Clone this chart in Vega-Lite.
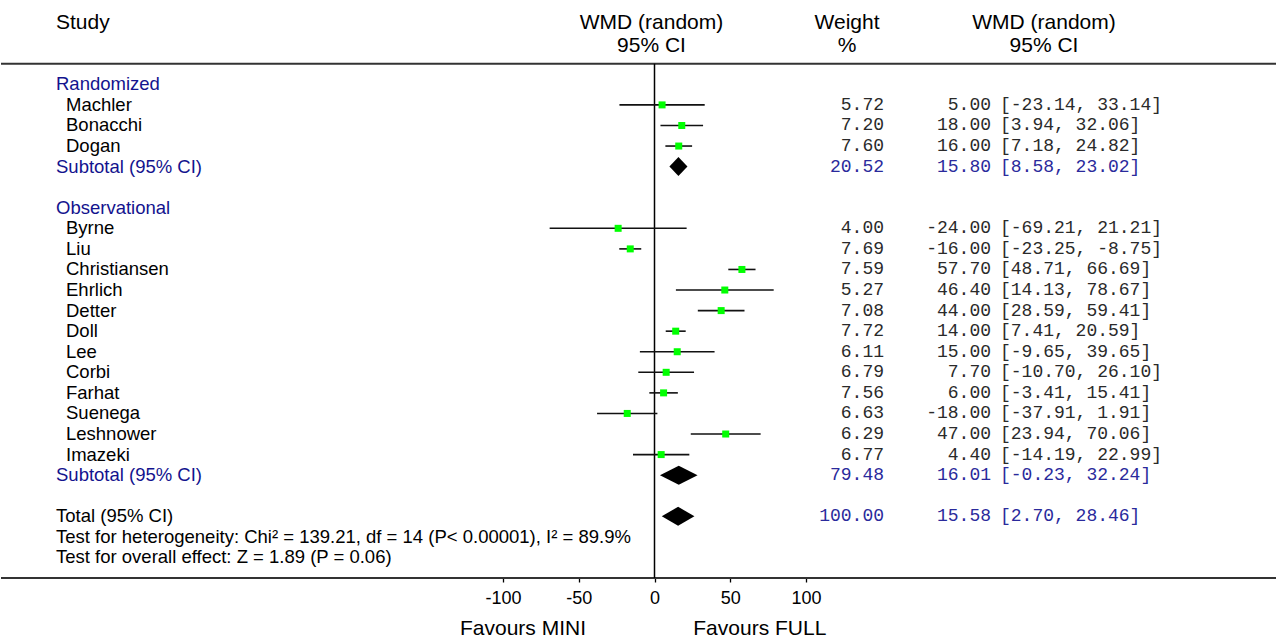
{
  "$schema": "https://vega.github.io/schema/vega-lite/v6.json",
  "padding": 0,
  "autosize": {"type": "pad"},
  "bounds": "flush",
  "spacing": 0,
  "config": {
    "view": {"stroke": null},
    "locale": {"number": {"decimal": ".", "thousands": ",", "grouping": [3], "currency": ["$", ""], "minus": "-"}}
  },
  "datasets": {
    "lines": [{"id": "top"}, {"id": "bottom"}],
    "headers": [
      {"id": "h1", "col": "study", "t": "Study"},
      {"id": "h1", "col": "plot", "t": "WMD (random)"},
      {"id": "h2", "col": "plot", "t": "95% CI"},
      {"id": "h1", "col": "weight", "t": "Weight"},
      {"id": "h2", "col": "weight", "t": "%"},
      {"id": "h1", "col": "ci", "t": "WMD (random)"},
      {"id": "h2", "col": "ci", "t": "95% CI"}
    ],
    "rows": [
      {"id": "Randomized", "label": "Randomized", "kind": "group"},
      {"id": "Machler", "label": "Machler", "kind": "study", "weight": 5.72, "est": 5.00, "lower": -23.14, "upper": 33.14, "ci": "[-23.14, 33.14]"},
      {"id": "Bonacchi", "label": "Bonacchi", "kind": "study", "weight": 7.20, "est": 18.00, "lower": 3.94, "upper": 32.06, "ci": "[3.94, 32.06]"},
      {"id": "Dogan", "label": "Dogan", "kind": "study", "weight": 7.60, "est": 16.00, "lower": 7.18, "upper": 24.82, "ci": "[7.18, 24.82]"},
      {"id": "SubR", "label": "Subtotal (95% CI)", "kind": "subtotal", "weight": 20.52, "est": 15.80, "lower": 8.58, "upper": 23.02, "ci": "[8.58, 23.02]"},
      {"id": "Observational", "label": "Observational", "kind": "group"},
      {"id": "Byrne", "label": "Byrne", "kind": "study", "weight": 4.00, "est": -24.00, "lower": -69.21, "upper": 21.21, "ci": "[-69.21, 21.21]"},
      {"id": "Liu", "label": "Liu", "kind": "study", "weight": 7.69, "est": -16.00, "lower": -23.25, "upper": -8.75, "ci": "[-23.25, -8.75]"},
      {"id": "Christiansen", "label": "Christiansen", "kind": "study", "weight": 7.59, "est": 57.70, "lower": 48.71, "upper": 66.69, "ci": "[48.71, 66.69]"},
      {"id": "Ehrlich", "label": "Ehrlich", "kind": "study", "weight": 5.27, "est": 46.40, "lower": 14.13, "upper": 78.67, "ci": "[14.13, 78.67]"},
      {"id": "Detter", "label": "Detter", "kind": "study", "weight": 7.08, "est": 44.00, "lower": 28.59, "upper": 59.41, "ci": "[28.59, 59.41]"},
      {"id": "Doll", "label": "Doll", "kind": "study", "weight": 7.72, "est": 14.00, "lower": 7.41, "upper": 20.59, "ci": "[7.41, 20.59]"},
      {"id": "Lee", "label": "Lee", "kind": "study", "weight": 6.11, "est": 15.00, "lower": -9.65, "upper": 39.65, "ci": "[-9.65, 39.65]"},
      {"id": "Corbi", "label": "Corbi", "kind": "study", "weight": 6.79, "est": 7.70, "lower": -10.70, "upper": 26.10, "ci": "[-10.70, 26.10]"},
      {"id": "Farhat", "label": "Farhat", "kind": "study", "weight": 7.56, "est": 6.00, "lower": -3.41, "upper": 15.41, "ci": "[-3.41, 15.41]"},
      {"id": "Suenega", "label": "Suenega", "kind": "study", "weight": 6.63, "est": -18.00, "lower": -37.91, "upper": 1.91, "ci": "[-37.91, 1.91]"},
      {"id": "Leshnower", "label": "Leshnower", "kind": "study", "weight": 6.29, "est": 47.00, "lower": 23.94, "upper": 70.06, "ci": "[23.94, 70.06]"},
      {"id": "Imazeki", "label": "Imazeki", "kind": "study", "weight": 6.77, "est": 4.40, "lower": -14.19, "upper": 22.99, "ci": "[-14.19, 22.99]"},
      {"id": "SubO", "label": "Subtotal (95% CI)", "kind": "subtotal", "weight": 79.48, "est": 16.01, "lower": -0.23, "upper": 32.24, "ci": "[-0.23, 32.24]"},
      {"id": "Total", "label": "Total (95% CI)", "kind": "total", "weight": 100.00, "est": 15.58, "lower": 2.70, "upper": 28.46, "ci": "[2.70, 28.46]"},
      {"id": "Het", "label": "Test for heterogeneity: Chi² = 139.21, df = 14 (P< 0.00001), I² = 89.9%", "kind": "test"},
      {"id": "Overall", "label": "Test for overall effect: Z = 1.89 (P = 0.06)", "kind": "test"}
    ]
  },
  "hconcat": [
    {
      "width": 110,
      "height": 578,
      "layer": [
        {
          "data": {"name": "lines"},
          "mark": {"type": "rule", "color": "#333333", "strokeWidth": 2},
          "encoding": {"y": {"field": "id", "type": "nominal", "axis": null, "scale": {"type": "point", "domain": ["h1","h2","top","Randomized","Machler","Bonacchi","Dogan","SubR","gap1","Observational","Byrne","Liu","Christiansen","Ehrlich","Detter","Doll","Lee","Corbi","Farhat","Suenega","Leshnower","Imazeki","SubO","gap2","Total","Het","Overall","bottom"], "padding": 0.55, "align": 1}}}
        },
        {
          "data": {"name": "headers"},
          "transform": [{"filter": "datum.col === 'study'"}],
          "mark": {"type": "text", "align": "left", "baseline": "middle", "font": "Liberation Sans", "fontSize": 21, "color": "#000000"},
          "encoding": {"y": {"field": "id", "type": "nominal", "axis": null}, "text": {"field": "t"}}
        },
        {
          "data": {"name": "rows"},
          "transform": [{"filter": "datum.kind !== 'study'"}],
          "mark": {"type": "text", "align": "left", "baseline": "middle", "font": "Liberation Sans", "fontSize": 18.5},
          "encoding": {
            "y": {"field": "id", "type": "nominal", "axis": null},
            "text": {"field": "label"},
            "color": {"condition": {"test": "datum.kind === 'group' || datum.kind === 'subtotal'", "value": "#13138e"}, "value": "#000000"}
          }
        },
        {
          "data": {"name": "rows"},
          "transform": [{"filter": "datum.kind === 'study'"}],
          "mark": {"type": "text", "align": "left", "baseline": "middle", "font": "Liberation Sans", "fontSize": 18.5, "dx": 10, "color": "#000000"},
          "encoding": {"y": {"field": "id", "type": "nominal", "axis": null}, "text": {"field": "label"}}
        }
      ]
    },
    {
      "width": 392,
      "height": 578,
      "layer": [
        {
          "data": {"name": "lines"},
          "mark": {"type": "rule", "color": "#333333", "strokeWidth": 2},
          "encoding": {"y": {"field": "id", "type": "nominal", "axis": null, "scale": {"type": "point", "domain": ["h1","h2","top","Randomized","Machler","Bonacchi","Dogan","SubR","gap1","Observational","Byrne","Liu","Christiansen","Ehrlich","Detter","Doll","Lee","Corbi","Farhat","Suenega","Leshnower","Imazeki","SubO","gap2","Total","Het","Overall","bottom"], "padding": 0.55, "align": 1}}}
        }
      ]
    },
    {
      "width": 303,
      "height": 578,
      "resolve": {"axis": {"x": "independent"}},
      "layer": [
        {
          "data": {"name": "lines"},
          "mark": {"type": "rule", "color": "#333333", "strokeWidth": 2},
          "encoding": {"y": {"field": "id", "type": "nominal", "axis": null, "scale": {"type": "point", "domain": ["h1","h2","top","Randomized","Machler","Bonacchi","Dogan","SubR","gap1","Observational","Byrne","Liu","Christiansen","Ehrlich","Detter","Doll","Lee","Corbi","Farhat","Suenega","Leshnower","Imazeki","SubO","gap2","Total","Het","Overall","bottom"], "padding": 0.55, "align": 1}}}
        },
        {
          "data": {"name": "headers"},
          "transform": [{"filter": "datum.col === 'plot' && datum.id === 'h1'"}],
          "mark": {"type": "text", "align": "center", "baseline": "middle", "font": "Liberation Sans", "fontSize": 21, "color": "#000000", "dx": -3},
          "encoding": {"y": {"field": "id", "type": "nominal", "axis": null}, "text": {"field": "t"}}
        },
        {
          "data": {"name": "headers"},
          "transform": [{"filter": "datum.col === 'plot' && datum.id === 'h2'"}],
          "mark": {"type": "text", "align": "center", "baseline": "middle", "font": "Liberation Sans", "fontSize": 21, "color": "#000000", "dx": -3, "dy": 3},
          "encoding": {"y": {"field": "id", "type": "nominal", "axis": null}, "text": {"field": "t"}}
        },
        {
          "data": {"values": [{}]},
          "mark": {"type": "rule", "color": "#000000", "strokeWidth": 1.5},
          "encoding": {
            "x": {"datum": 0, "type": "quantitative", "axis": null, "scale": {"domain": [-100, 100], "nice": false, "zero": false}},
            "y": {"datum": "top", "type": "nominal", "axis": null},
            "y2": {"datum": "bottom"}
          }
        },
        {
          "data": {"name": "rows"},
          "transform": [{"filter": "datum.kind === 'study'"}],
          "mark": {"type": "rule", "color": "#111111", "strokeWidth": 1.6},
          "encoding": {
            "x": {"field": "lower", "type": "quantitative", "scale": {"domain": [-100, 100], "nice": false, "zero": false},
              "axis": {"orient": "bottom", "values": [-100, -50, 0, 50, 100], "format": "d", "domain": false, "grid": false, "ticks": true, "tickSize": 4, "tickWidth": 1.3, "tickColor": "#000000", "labelFont": "Liberation Sans", "labelFontSize": 18, "labelColor": "#000000", "labelPadding": 7, "labelFlush": false, "labelOverlap": false, "title": "Favours MINI", "titleFont": "Liberation Sans", "titleFontSize": 21, "titleFontWeight": "normal", "titleColor": "#000000", "titleX": 19.5, "titleY": 56, "titleAlign": "center", "titleBaseline": "alphabetic"}},
            "x2": {"field": "upper"},
            "y": {"field": "id", "type": "nominal", "axis": null}
          }
        },
        {
          "data": {"name": "rows"},
          "transform": [{"filter": "datum.kind === 'study'"}],
          "mark": {"type": "point", "shape": "square", "filled": true, "color": "#00ff00", "opacity": 1, "size": 49},
          "encoding": {
            "x": {"field": "est", "type": "quantitative", "scale": {"domain": [-100, 100], "nice": false, "zero": false},
              "axis": {"orient": "bottom", "domain": false, "grid": false, "ticks": false, "labels": false, "title": "Favours FULL", "titleFont": "Liberation Sans", "titleFontSize": 21, "titleFontWeight": "normal", "titleColor": "#000000", "titleX": 256.3, "titleY": 56, "titleAlign": "center", "titleBaseline": "alphabetic"}},
            "y": {"field": "id", "type": "nominal", "axis": null}
          }
        },
        {
          "data": {"name": "rows"},
          "transform": [{"filter": "datum.kind === 'subtotal' || datum.kind === 'total'"}],
          "mark": {"type": "point", "filled": true, "color": "#000000", "opacity": 1, "size": 361},
          "encoding": {
            "x": {"field": "est", "type": "quantitative", "axis": null, "scale": {"domain": [-100, 100], "nice": false, "zero": false}},
            "y": {"field": "id", "type": "nominal", "axis": null},
            "shape": {"field": "id", "type": "nominal", "legend": null, "scale": {"domain": ["SubR", "SubO", "Total"], "range": ["M-0.95,0L0,-1L0.95,0L0,1Z", "M-1.98,0L0,-1L1.98,0L0,1Z", "M-1.72,0L0,-1L1.72,0L0,1Z"]}}
          }
        }
      ]
    },
    {
      "width": 156,
      "height": 578,
      "layer": [
        {
          "data": {"name": "lines"},
          "mark": {"type": "rule", "color": "#333333", "strokeWidth": 2},
          "encoding": {"y": {"field": "id", "type": "nominal", "axis": null, "scale": {"type": "point", "domain": ["h1","h2","top","Randomized","Machler","Bonacchi","Dogan","SubR","gap1","Observational","Byrne","Liu","Christiansen","Ehrlich","Detter","Doll","Lee","Corbi","Farhat","Suenega","Leshnower","Imazeki","SubO","gap2","Total","Het","Overall","bottom"], "padding": 0.55, "align": 1}}}
        },
        {
          "data": {"name": "headers"},
          "transform": [{"filter": "datum.col === 'weight' && datum.id === 'h1'"}],
          "mark": {"type": "text", "align": "center", "baseline": "middle", "font": "Liberation Sans", "fontSize": 21, "color": "#000000", "dx": -37},
          "encoding": {"y": {"field": "id", "type": "nominal", "axis": null}, "text": {"field": "t"}}
        },
        {
          "data": {"name": "headers"},
          "transform": [{"filter": "datum.col === 'weight' && datum.id === 'h2'"}],
          "mark": {"type": "text", "align": "center", "baseline": "middle", "font": "Liberation Sans", "fontSize": 21, "color": "#000000", "dx": -37, "dy": 3},
          "encoding": {"y": {"field": "id", "type": "nominal", "axis": null}, "text": {"field": "t"}}
        },
        {
          "data": {"name": "rows"},
          "transform": [{"filter": "isValid(datum.weight)"}],
          "mark": {"type": "text", "align": "right", "baseline": "middle", "font": "Liberation Mono", "fontSize": 18},
          "encoding": {
            "y": {"field": "id", "type": "nominal", "axis": null},
            "text": {"field": "weight", "type": "quantitative", "format": ".2f"},
            "color": {"condition": {"test": "datum.kind !== 'study'", "value": "#2a2a9c"}, "value": "#2a2a2a"}
          }
        }
      ]
    },
    {
      "width": 76,
      "height": 578,
      "layer": [
        {
          "data": {"name": "lines"},
          "mark": {"type": "rule", "color": "#333333", "strokeWidth": 2},
          "encoding": {"y": {"field": "id", "type": "nominal", "axis": null, "scale": {"type": "point", "domain": ["h1","h2","top","Randomized","Machler","Bonacchi","Dogan","SubR","gap1","Observational","Byrne","Liu","Christiansen","Ehrlich","Detter","Doll","Lee","Corbi","Farhat","Suenega","Leshnower","Imazeki","SubO","gap2","Total","Het","Overall","bottom"], "padding": 0.55, "align": 1}}}
        },
        {
          "data": {"name": "headers"},
          "transform": [{"filter": "datum.col === 'ci' && datum.id === 'h1'"}],
          "mark": {"type": "text", "align": "center", "baseline": "middle", "font": "Liberation Sans", "fontSize": 21, "color": "#000000", "dx": 44},
          "encoding": {"y": {"field": "id", "type": "nominal", "axis": null}, "text": {"field": "t"}}
        },
        {
          "data": {"name": "headers"},
          "transform": [{"filter": "datum.col === 'ci' && datum.id === 'h2'"}],
          "mark": {"type": "text", "align": "center", "baseline": "middle", "font": "Liberation Sans", "fontSize": 21, "color": "#000000", "dx": 44, "dy": 3},
          "encoding": {"y": {"field": "id", "type": "nominal", "axis": null}, "text": {"field": "t"}}
        },
        {
          "data": {"name": "rows"},
          "transform": [{"filter": "isValid(datum.est)"}],
          "mark": {"type": "text", "align": "right", "baseline": "middle", "font": "Liberation Mono", "fontSize": 18, "dx": -9},
          "encoding": {
            "y": {"field": "id", "type": "nominal", "axis": null},
            "text": {"field": "est", "type": "quantitative", "format": ".2f"},
            "color": {"condition": {"test": "datum.kind !== 'study'", "value": "#2a2a9c"}, "value": "#2a2a2a"}
          }
        },
        {
          "data": {"name": "rows"},
          "transform": [{"filter": "isValid(datum.ci)"}],
          "mark": {"type": "text", "align": "left", "baseline": "middle", "font": "Liberation Mono", "fontSize": 18},
          "encoding": {
            "y": {"field": "id", "type": "nominal", "axis": null},
            "text": {"field": "ci"},
            "color": {"condition": {"test": "datum.kind !== 'study'", "value": "#2a2a9c"}, "value": "#2a2a2a"}
          }
        }
      ]
    },
    {
      "width": 239,
      "height": 578,
      "layer": [
        {
          "data": {"name": "lines"},
          "mark": {"type": "rule", "color": "#333333", "strokeWidth": 2},
          "encoding": {"y": {"field": "id", "type": "nominal", "axis": null, "scale": {"type": "point", "domain": ["h1","h2","top","Randomized","Machler","Bonacchi","Dogan","SubR","gap1","Observational","Byrne","Liu","Christiansen","Ehrlich","Detter","Doll","Lee","Corbi","Farhat","Suenega","Leshnower","Imazeki","SubO","gap2","Total","Het","Overall","bottom"], "padding": 0.55, "align": 1}}}
        }
      ]
    }
  ]
}
